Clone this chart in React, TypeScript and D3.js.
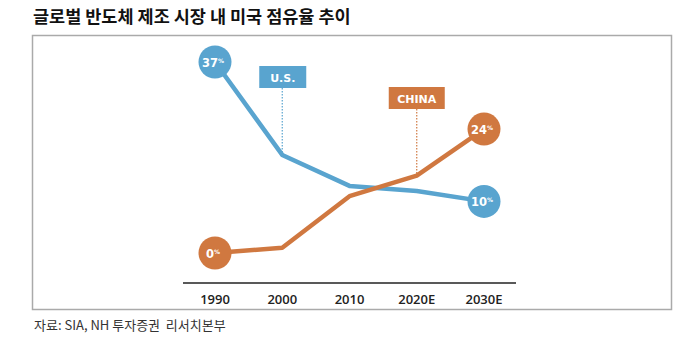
import React from "react";
import * as d3 from "d3";

const years = ["1990", "2000", "2010", "2020E", "2030E"];
const usShare = [37, 19, 13, 12, 10];
const chinaShare = [0, 1, 11, 15, 24];
const title = "글로벌 반도체 제조 시장 내 미국 점유율 추이";
const source = "자료: SIA, NH 투자증권  리서치본부";
const seriesNames = ["U.S.", "CHINA"];

const BLUE = "#59a4cf";
const ORANGE = "#d07840";

export default function App() {
  const x = d3.scalePoint<string>().domain(years).range([215, 484]);
  const y = d3.scaleLinear().domain([0, 37]).range([253, 62]);
  const line = d3
    .line<number>()
    .x((_, i) => x(years[i]) as number)
    .y((d) => y(d));

  const wide = "'DejaVu Sans', sans-serif";

  const endLabel = (v: number, i: number, color: string) => (
    <g key={color + i}>
      <circle cx={x(years[i])} cy={y(v)} r={16.5} fill={color} />
      <text
        x={(x(years[i]) as number) - 2}
        y={y(v) + 4.5}
        textAnchor="middle"
        fontFamily={wide}
        fontWeight={700}
        fontSize={11.5}
        fill="#fff"
      >
        {v}
        <tspan fontSize={6} dy={-4}>%</tspan>
      </text>
    </g>
  );

  const tag = (name: string, i: number, v: number, color: string, top: number, w: number) => {
    const cx = x(years[i]) as number;
    const left = name === "U.S." ? cx - 23 : cx - 28;
    return (
      <g key={name}>
        <line x1={cx} x2={cx} y1={top + 22} y2={y(v)} stroke={color} strokeWidth={1.2} strokeDasharray="1.5,1.5" />
        <rect x={left} y={top} width={w} height={22} fill={color} />
        <text
          x={left + w / 2}
          y={top + 15.5}
          textAnchor="middle"
          fontFamily={wide}
          fontWeight={700}
          fontSize={11}
          fill="#fff"
        >
          {name}
        </text>
      </g>
    );
  };

  return (
    <svg
      width={680}
      height={343}
      style={{ position: "absolute", left: 0, top: 0, background: "#fff" }}
    >
      <text x={33} y={23} fontFamily="'Noto Sans CJK KR', sans-serif" fontWeight={700} fontSize={17.5} fill="#111">
        {title}
      </text>
      <rect x={32.5} y={35.5} width={639} height={274} fill="none" stroke="#aaa" strokeWidth={1.5} />

      <line x1={183} x2={516} y1={283} y2={283} stroke="#222" strokeWidth={1.5} />
      {years.map((yr) => (
        <text
          key={yr}
          x={x(yr)}
          y={304}
          textAnchor="middle"
          fontFamily="'Open Sans', sans-serif"
          fontWeight={600}
          fontSize={13}
          fill="#222"
        >
          {yr}
        </text>
      ))}

      {tag(seriesNames[0], 1, usShare[1], BLUE, 66, 47)}
      {tag(seriesNames[1], 3, chinaShare[3], ORANGE, 87, 56)}

      <path d={line(usShare) || ""} fill="none" stroke={BLUE} strokeWidth={4.5} strokeLinejoin="round" />
      <path d={line(chinaShare) || ""} fill="none" stroke={ORANGE} strokeWidth={4.5} strokeLinejoin="round" />

      {endLabel(usShare[0], 0, BLUE)}
      {endLabel(usShare[4], 4, BLUE)}
      {endLabel(chinaShare[0], 0, ORANGE)}
      {endLabel(chinaShare[4], 4, ORANGE)}

      <text x={34} y={330} fontFamily="'Noto Sans CJK KR', sans-serif" fontSize={13} fill="#333" style={{ whiteSpace: "pre" }}>
        {source}
      </text>
    </svg>
  );
}
